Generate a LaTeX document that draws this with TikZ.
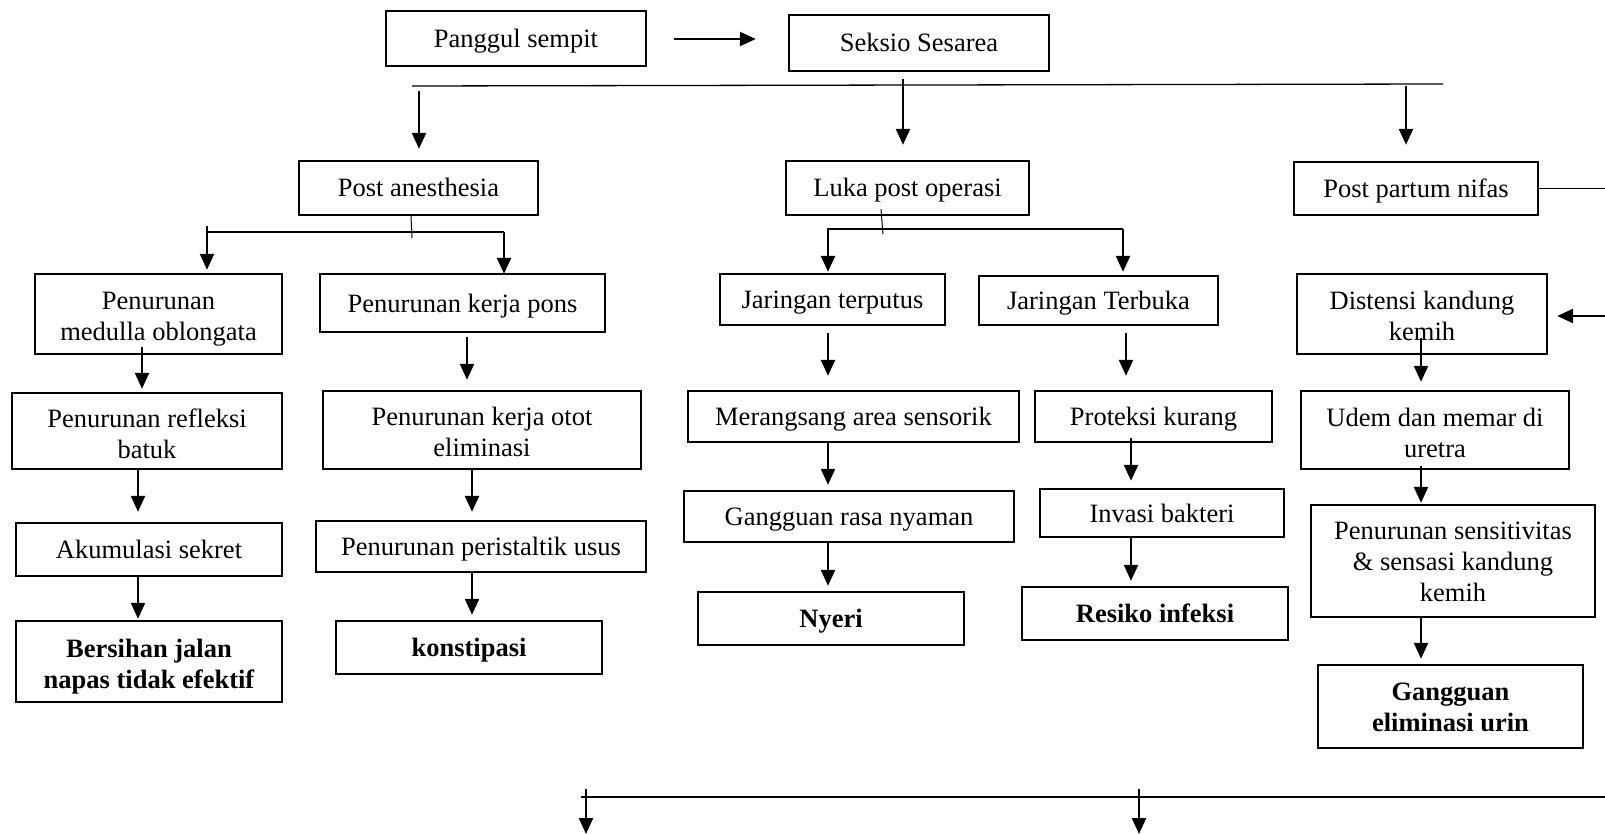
\documentclass[tikz,border=0pt]{standalone}
\usepackage{fontspec}
\setmainfont{Liberation Serif}
\usetikzlibrary{arrows.meta,calc}
\newcommand\TS[1]{\rule{0pt}{#1pt}}
\newcommand\BS{\rule[-7pt]{0pt}{7pt}}
\tikzset{
  box/.style={draw, line width=2.4pt, inner sep=0pt, align=center,
    font=\fontsize{26.5}{31}\selectfont},
  one/.style={text height=20pt, text depth=2pt},
  bold/.style={font=\fontsize{26.5}{31}\selectfont\bfseries},
  arr/.style={line width=2.4pt, -{Triangle[length=16pt,width=14pt]}},
  ln/.style={line width=1.3pt},
  fine/.style={line width=1pt},
}
\begin{document}
\begin{tikzpicture}[x=1pt,y=-1pt]
\useasboundingbox (0,0) rectangle (1605,834);
\fill[white] (0,0) rectangle (1605,834);

% top row
\node[box,one,minimum width=260pt,minimum height=55pt] (ps) at (516,38.5) {Panggul sempit};
\node[box,one,minimum width=260pt,minimum height=56pt] (ss) at (919,43) {Seksio Sesarea};
% second row
\node[box,one,minimum width=239pt,minimum height=54pt] (pa) at (418.5,188) {Post anesthesia};
\node[box,one,minimum width=243pt,minimum height=54pt] (lpo) at (907.5,188) {Luka post operasi};
\node[box,one,minimum width=244pt,minimum height=53pt] (ppn) at (1416,188.5) {Post partum nifas};
% third row
\node[box,minimum width=247pt,minimum height=80pt] (med) at (158.5,314) {\TS{28}Penurunan\\medulla oblongata\BS};
\node[box,one,minimum width=285pt,minimum height=58pt] (pons) at (462.5,303) {Penurunan kerja pons};
\node[box,one,minimum width=225pt,minimum height=51pt] (jt) at (832.5,299.5) {Jaringan terputus};
\node[box,one,minimum width=239pt,minimum height=49pt] (jtb) at (1098.5,300.5) {Jaringan Terbuka};
\node[box,minimum width=250pt,minimum height=80pt] (dist) at (1422,314) {\TS{28}Distensi kandung\\kemih\BS};
% fourth row
\node[box,minimum width=270pt,minimum height=76pt] (ref) at (147,431) {\TS{30}Penurunan refleksi\\batuk\BS};
\node[box,minimum width=318pt,minimum height=78pt] (otot) at (482,430) {\TS{29}Penurunan kerja otot\\eliminasi\BS};
\node[box,one,minimum width=331pt,minimum height=51pt] (mer) at (853.5,416.5) {Merangsang area sensorik};
\node[box,one,minimum width=237pt,minimum height=51pt] (prot) at (1153.5,416.5) {Proteksi kurang};
\node[box,minimum width=268pt,minimum height=78pt] (udem) at (1435,430) {\TS{30}Udem dan memar di\\uretra\BS};
% fifth row
\node[box,one,minimum width=266pt,minimum height=53pt] (aku) at (149,549.5) {Akumulasi sekret};
\node[box,one,minimum width=330pt,minimum height=51pt] (peri) at (481,546.5) {Penurunan peristaltik usus};
\node[box,one,minimum width=330pt,minimum height=51pt] (grn) at (849,516.5) {Gangguan rasa nyaman};
\node[box,one,minimum width=244pt,minimum height=48pt] (inv) at (1162,513) {Invasi bakteri};
\node[box,minimum width=284pt,minimum height=112pt] (sens) at (1453,561) {\TS{25}Penurunan sensitivitas\\\& sensasi kandung\\kemih\BS};
% results
\node[box,bold,minimum width=266pt,minimum height=81pt] (bers) at (149,661.5) {\TS{29}Bersihan jalan\\napas tidak efektif\BS};
\node[box,bold,one,minimum width=266pt,minimum height=53pt] (kons) at (469,647.5) {konstipasi};
\node[box,bold,one,minimum width=266pt,minimum height=53pt] (nyeri) at (831,618.5) {Nyeri};
\node[box,bold,one,minimum width=266pt,minimum height=53pt] (res) at (1155,613.5) {Resiko infeksi};
\node[box,bold,minimum width=265pt,minimum height=83pt] (gel) at (1450.5,706.5) {\TS{25}Gangguan\\eliminasi urin\BS};

% coordinates of bus lines
\coordinate (busL) at (412,86);
\coordinate (busR) at (1443,84);
\coordinate (paL) at (207,232);
\coordinate (paR) at (504,232);
\coordinate (loL) at (828,229);
\coordinate (loR) at (1123,229);
\coordinate (ppE) at (1605,188.5);
\coordinate (dsE) at (1605,316);
\coordinate (btL) at (581,797);
\coordinate (btR) at (1605,797);
\coordinate (btM) at (1139,797);

% top connectors
\draw[arr] ($(ps.east)+(27,0.5)$) -- ($(ss.west)+(-32,-4)$);
\draw[ln] (busL) -- (busR);
\draw[arr] ($(pa.north)+(0.5,-69)$) -- ($(pa.north)+(0.5,-11)$);
\draw[arr] ($(ss.south)+(-16,7)$) -- ($(lpo.north)+(-4.5,-15)$);
\draw[arr] ($(ppn.north)+(-10,-75)$) -- ($(ppn.north)+(-10,-16)$);

% post anesthesia branch
\draw[fine] ($(pa.south)+(-7.5,0)$) -- ($(pa.south)+(-6.5,22)$);
\draw[ln] (paL) -- (paR);
\draw[arr] ($(paL)+(0,-6)$) -- ($(med.north -| paL)+(0,-3)$);
\draw[arr] (paR) -- ($(pons.north -| paR)+(0,1)$);

% luka post operasi branch
\draw[fine] ($(lpo.south)+(-26.5,-7)$) -- ($(lpo.south)+(-24.5,18)$);
\draw[ln] ($(loL)+(-1,0)$) -- (loR);
\draw[arr] (loL) -- ($(jt.north -| loL)+(0,-1)$);
\draw[arr] (loR) -- ($(jtb.north -| loR)+(0,-3)$);

% post partum branch
\draw[fine] (ppn.east) -- (ppE);
\draw[arr] (dsE) -- ($(dist.east |- dsE)+(9,0)$);

% column 1
\draw[arr] ($(med.south)+(-16.5,-8)$) -- ($(ref.north)+(-5,-3)$);
\draw[arr] ($(ref.south)+(-9,0)$) -- ($(aku.north)+(-11,-10)$);
\draw[arr] ($(aku.south)+(-11,0)$) -- ($(bers.north)+(-11,-1)$);
% column 2
\draw[arr] ($(pons.south)+(4.5,4)$) -- ($(otot.north)+(-15,-10)$);
\draw[arr] ($(otot.south)+(-10,0)$) -- ($(peri.north)+(-9,-8)$);
\draw[arr] ($(peri.south)+(-9,0)$) -- ($(kons.north)+(3,-5)$);
% column 3
\draw[arr] ($(jt.south)+(-4.5,7)$) -- ($(mer.north)+(-25.5,-14)$);
\draw[arr] ($(mer.south)+(-25.5,0)$) -- ($(grn.north)+(-21,-5)$);
\draw[arr] ($(grn.south)+(-21,0)$) -- ($(nyeri.north)+(-3,-5)$);
% column 4
\draw[arr] ($(jtb.south)+(27.5,7)$) -- ($(prot.north)+(-27.5,-14)$);
\draw[arr] ($(prot.south)+(-22.5,-5)$) -- ($(inv.north)+(-31,-7)$);
\draw[arr] ($(inv.south)+(-31,0)$) -- ($(res.north)+(-24,-5)$);
% column 5
\draw[arr] ($(dist.south)+(-1,-17)$) -- ($(udem.north)+(-14,-8)$);
\draw[arr] ($(udem.south)+(-14,-4)$) -- ($(sens.north)+(-32,-1)$);
\draw[arr] ($(sens.south)+(-32,0)$) -- ($(gel.north)+(-29.5,-5)$);

% bottom
\draw[ln] (btL) -- (btR);
\draw[arr] ($(btL)+(5,-8)$) -- ($(btL)+(5,37)$);
\draw[arr] ($(btM)+(0,-8)$) -- ($(btM)+(0,37)$);
\end{tikzpicture}
\end{document}
